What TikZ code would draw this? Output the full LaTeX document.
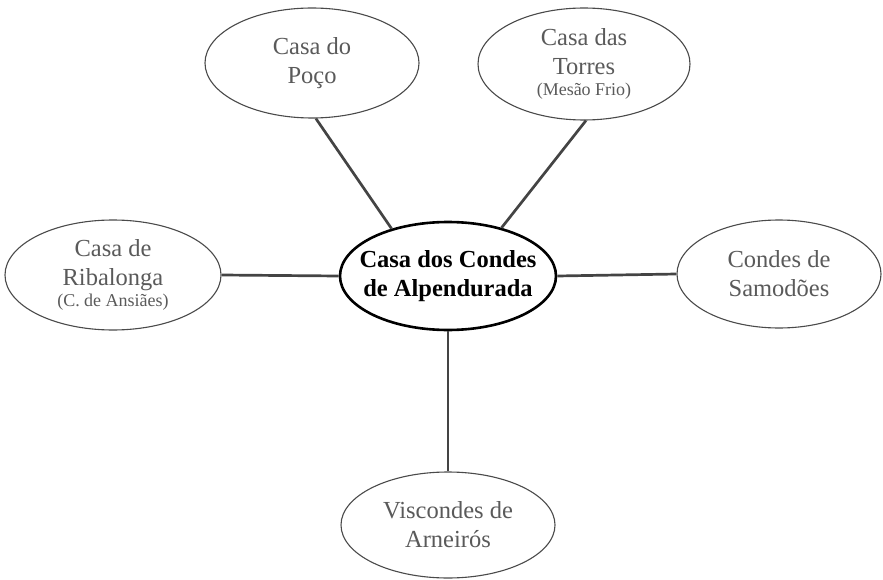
\documentclass[tikz,border=0pt]{standalone}
\usepackage{fontspec}
\setmainfont{Liberation Serif}
\usetikzlibrary{shapes.geometric}
\definecolor{txtgray}{HTML}{5A5A5A}
\definecolor{edgegray}{HTML}{4A4A4A}
\definecolor{linkgray}{HTML}{444444}
\tikzset{
  sat/.style={ellipse, draw=edgegray, line width=1.1pt, fill=white, inner sep=0pt,
    minimum width=214pt, minimum height=110pt, align=center, text=txtgray,
    font=\fontsize{24.5}{29}\selectfont},
  hub/.style={ellipse, draw=black, line width=2.6pt, fill=white,
    inner xsep=-14pt, inner ysep=-12pt,
    minimum width=216pt, minimum height=108pt, align=center, text=black,
    font=\fontsize{24.5}{29}\selectfont\bfseries},
  link/.style={draw=linkgray, line width=2.7pt}
}
\newcommand{\smalltxt}[1]{{\fontsize{18}{21}\selectfont #1}}
\begin{document}
\begin{tikzpicture}[x=1pt,y=-1pt]
\useasboundingbox (0,0) rectangle (883,580);
\node[sat] (poco) at (312,63) {Casa do\\Poço};
\node[sat, minimum width=212pt, minimum height=112pt] (torres) at (584,64) {Casa das\\Torres\\[-8pt]\smalltxt{(Mesão Frio)}};
\node[sat, minimum width=216pt] (riba) at (113,275) {Casa de\\Ribalonga\\[-8pt]\smalltxt{(C. de Ansiães)}};
\node[sat, minimum width=204pt, minimum height=108pt] (samo) at (779,274) {Condes de\\Samodões};
\node[sat, minimum height=106pt] (visc) at (448,525) {Viscondes de\\Arneirós};
\node[hub] (hub) at (448,276) {Casa dos Condes\\de Alpendurada};
\draw[link] (poco.-86) -- (hub.140);
\draw[link] (torres.-88) -- (hub.42);
\draw[link] (riba.east) -- (hub.west);
\draw[link] (samo.west) -- (hub.east);
\draw[link] (hub.south) -- (visc.north);
\end{tikzpicture}
\end{document}
